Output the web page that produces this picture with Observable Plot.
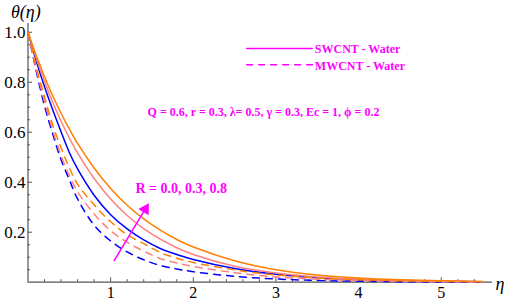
<!DOCTYPE html>
<html><head><meta charset="utf-8">
<script src="https://cdn.jsdelivr.net/npm/d3@7"></script>
<script src="https://cdn.jsdelivr.net/npm/@observablehq/plot@0.6"></script>
<style>body{margin:0;background:#fff}</style>
</head><body><div id="chart"></div>
<script>
// ---- data ----
const eta = [0,0.1,0.2,0.3,0.4,0.5,0.6,0.8,1.0,1.2,1.4,1.6,1.8,2.0,2.5,3.0,3.5,4.0,4.5,5.0,5.5];
const swcntR00 = [1,0.885,0.782,0.689,0.602,0.519,0.453,0.348,0.270,0.213,0.169,0.135,0.111,0.091,0.055,0.032,0.018,0.010,0.0055,0.003,0.0015];
const swcntR03 = [1,0.896,0.803,0.719,0.644,0.577,0.517,0.415,0.333,0.267,0.214,0.172,0.138,0.111,0.064,0.037,0.021,0.012,0.007,0.004,0.002];
const swcntR08 = [1,0.907,0.822,0.745,0.676,0.613,0.555,0.457,0.375,0.308,0.253,0.208,0.171,0.141,0.086,0.050,0.029,0.017,0.010,0.006,0.003];
const mwcntR00 = [1,0.844,0.705,0.592,0.490,0.410,0.333,0.228,0.165,0.121,0.090,0.067,0.053,0.042,0.0235,0.013,0.007,0.004,0.002,0.001,0.0005];
const mwcntR03 = [1,0.852,0.723,0.607,0.507,0.427,0.362,0.273,0.206,0.160,0.124,0.095,0.077,0.063,0.038,0.021,0.012,0.007,0.004,0.002,0.001];
const mwcntR08 = [1,0.861,0.741,0.628,0.538,0.458,0.392,0.310,0.242,0.190,0.154,0.119,0.096,0.079,0.049,0.029,0.017,0.010,0.006,0.003,0.002];
const rValues = ["0.0","0.3","0.8"];
const fluids = ["SWCNT - Water","MWCNT - Water"];
const xTicks = [1,2,3,4,5];
const yTicks = [0.2,0.4,0.6,0.8,1.0];
const xMinorTicks = [0.2,0.4,0.6,0.8,1.2,1.4,1.6,1.8,2.2,2.4,2.6,2.8,3.2,3.4,3.6,3.8,4.2,4.4,4.6,4.8,5.2,5.4];
const yMinorTicks = [0.05,0.1,0.15,0.25,0.3,0.35,0.45,0.5,0.55,0.65,0.7,0.75,0.85,0.9,0.95];
const paramText = "Q = 0.6, r = 0.3, λ= 0.5, γ = 0.3, Ec = 1, ϕ = 0.2";
const rLabel = "R = 0.0, 0.3, 0.8";

// ---- styling / layout ----
const colorOf = {"0.0":"#0000ff","0.3":"#ff8080","0.8":"#ff8000"};
const magenta = "#ff00ff";
const W = 510, H = 301, mL = 27.5, mR = 18, mT = 23, mB = 19.3;
const xDom = [0, 5.62], yDom = [0, 1.035];
const ux = (xDom[1]-xDom[0])/(W-mL-mR);   // eta per pixel
const uy = (yDom[1]-yDom[0])/(H-mT-mB);   // theta per pixel

const seriesList = [
  {fluid: fluids[0], R: rValues[0], v: swcntR00},
  {fluid: fluids[0], R: rValues[1], v: swcntR03},
  {fluid: fluids[0], R: rValues[2], v: swcntR08},
  {fluid: fluids[1], R: rValues[0], v: mwcntR00},
  {fluid: fluids[1], R: rValues[1], v: mwcntR03},
  {fluid: fluids[1], R: rValues[2], v: mwcntR08}
];
const rows = [];
for (const s of seriesList) eta.forEach((e,i)=>rows.push({eta:e, theta:s.v[i], fluid:s.fluid, R:s.R, key:s.fluid+s.R}));
const solidRows = rows.filter(d=>d.fluid===fluids[0]);
const dashRows = rows.filter(d=>d.fluid===fluids[1]);

// annotation anchors (data units)
const legX0 = 2.645, legX1 = 3.44, legTextX = 3.47;
const legY = [0.935, 0.870];
const arrowFrom = {eta:1.039, theta:0.084}, arrowTip = {eta:1.462, theta:0.316};
// arrow head geometry in pixels
const pdx = (arrowTip.eta-arrowFrom.eta)/ux, pdy = (arrowTip.theta-arrowFrom.theta)/uy;
const plen = Math.hypot(pdx,pdy), dirx = pdx/plen, diry = pdy/plen;
const headSide = 12, headH = headSide*Math.sqrt(3)/2;
const headCenter = {eta: arrowTip.eta - dirx*headH*2/3*ux, theta: arrowTip.theta - diry*headH*2/3*uy};
const shaftEnd = {eta: arrowTip.eta - dirx*headH*0.9*ux, theta: arrowTip.theta - diry*headH*0.9*uy};
const headAngle = Math.atan2(dirx, diry)*180/Math.PI;
const headR = Math.sqrt((Math.sqrt(3)/4*headSide*headSide)/Math.PI);

const axisColor = "#555";
const chart = Plot.plot({
  width: W, height: H,
  marginLeft: mL, marginRight: mR, marginTop: mT, marginBottom: mB,
  style: {fontFamily: "'Liberation Serif', serif", fontSize: "16px", background: "#fff", color: "#000"},
  x: {domain: xDom, axis: null},
  y: {domain: yDom, axis: null},
  marks: [
    Plot.ruleY([0], {stroke: axisColor, strokeWidth: 1.2}),
    Plot.ruleX([0], {stroke: axisColor, strokeWidth: 1.2}),
    Plot.ruleX(xTicks, {x: d=>d, y1: 0, y2: 4.5*uy, stroke: axisColor}),
    Plot.ruleX(xMinorTicks, {x: d=>d, y1: 0, y2: 2.5*uy, stroke: axisColor}),
    Plot.ruleY(yTicks, {y: d=>d, x1: 0, x2: 4.5*ux, stroke: axisColor}),
    Plot.ruleY(yMinorTicks, {y: d=>d, x1: 0, x2: 2.5*ux, stroke: axisColor}),
    Plot.text(xTicks, {x: d=>d, y: 0, text: d=>String(d), dy: 10.5, fontSize: 16, lineAnchor: "middle"}),
    Plot.text(yTicks, {x: 0, y: d=>d, text: d=>d.toFixed(1), dx: -2.5, textAnchor: "end", fontSize: 17}),
    Plot.text(["θ(η)"], {frameAnchor: "top-left", dx: -17, dy: -11, textAnchor: "start", lineAnchor: "middle", fontStyle: "italic", fontSize: 18}),
    Plot.text(["η"], {frameAnchor: "bottom-right", dx: 3, dy: 2, textAnchor: "start", lineAnchor: "middle", fontStyle: "italic", fontSize: 18}),
    Plot.line(solidRows, {x: "eta", y: "theta", z: "key", stroke: d=>colorOf[d.R], strokeWidth: 1.5, curve: "catmull-rom"}),
    Plot.line(dashRows, {x: "eta", y: "theta", z: "key", stroke: d=>colorOf[d.R], strokeWidth: 1.5, strokeDasharray: "7,6", curve: "catmull-rom"}),
    // legend
    Plot.line([{x: legX0, y: legY[0]}, {x: legX1, y: legY[0]}], {x: "x", y: "y", stroke: magenta, strokeWidth: 1.3}),
    Plot.line([{x: legX0, y: legY[1]}, {x: legX1+0.03, y: legY[1]}], {x: "x", y: "y", stroke: magenta, strokeWidth: 1.3, strokeDasharray: "6,6"}),
    Plot.text(fluids, {x: legTextX, y: (d,i)=>legY[i], text: d=>d, textAnchor: "start", fill: magenta, fontWeight: "bold", fontSize: 12, dy: 1}),
    Plot.text([paramText], {x: 1.447, y: 0.679, text: d=>d, textAnchor: "start", fill: magenta, fontWeight: "bold", fontSize: 12}),
    Plot.text([rLabel], {x: 1.30, y: 0.375, text: d=>d, textAnchor: "start", fill: magenta, fontWeight: "bold", fontSize: 14}),
    // arrow
    Plot.link([0], {x1: arrowFrom.eta, y1: arrowFrom.theta, x2: shaftEnd.eta, y2: shaftEnd.theta, stroke: magenta, strokeWidth: 1.5}),
    Plot.dot([0], {x: headCenter.eta, y: headCenter.theta, symbol: "triangle", r: headR, fill: magenta, stroke: "none", rotate: headAngle})
  ]
});
document.getElementById("chart").appendChild(chart);
</script>
</body></html>
